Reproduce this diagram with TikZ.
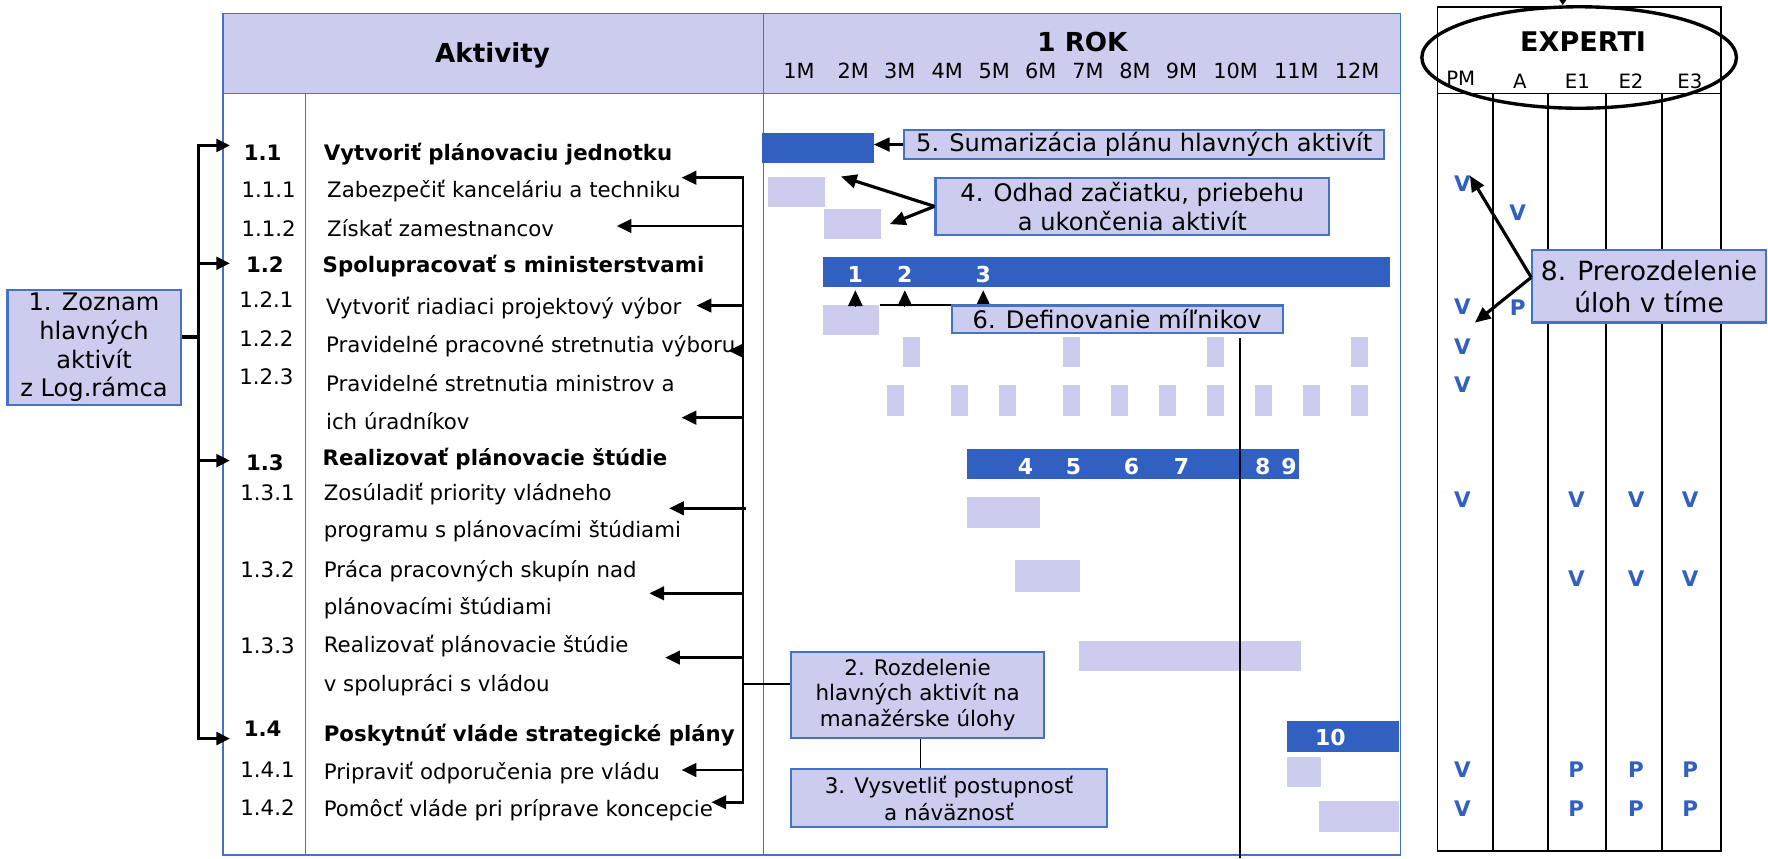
\documentclass[tikz,border=0pt]{standalone}
\usepackage{fontspec}
\setmainfont{DejaVu Sans}
\usetikzlibrary{arrows.meta,shapes.geometric,fit}

\definecolor{lav}{RGB}{204,204,238}
\definecolor{barblue}{RGB}{50,96,192}
\definecolor{edgeblue}{RGB}{68,114,196}

\newcommand{\rowfont}{\fontsize{18.9}{23}\selectfont}
\newcommand{\notefont}{\fontsize{21.4}{25.4}\selectfont}

\tikzset{
  tblframe/.style={draw=edgeblue, line width=1.5pt},
  note/.style={draw=edgeblue, line width=2pt, fill=lav, align=center, inner sep=0pt},
  rowtxt/.style={anchor=west, inner sep=0pt, text height=13.8pt, text depth=0pt, font=\rowfont},
  rowbold/.style={rowtxt, font=\rowfont\bfseries},
  headtxt/.style={inner sep=0pt, text height=17pt, text depth=0pt, font=\fontsize{23.2}{28}\selectfont\bfseries},
  monthlbl/.style={inner sep=0pt, text height=13.5pt, text depth=0pt, font=\fontsize{18.5}{22}\selectfont},
  collbl/.style={inner sep=0pt, text height=12.8pt, text depth=0pt, font=\fontsize{17.5}{21}\selectfont},
  vpmark/.style={inner sep=0pt, text height=13.9pt, text depth=0pt, text=barblue, font=\fontsize{19}{23}\selectfont\bfseries},
  barnum/.style={inner sep=0pt, text height=14.2pt, text depth=0pt, text=white, font=\fontsize{19.5}{23}\selectfont\bfseries},
  dbar/.style={fill=barblue, inner sep=0pt},
  lbar/.style={fill=lav, inner sep=0pt},
  arr/.style={line width=2.8pt, -{Triangle[length=14pt,width=12pt]}},
  rarr/.style={line width=2.2pt, -{Triangle[length=13pt,width=12pt]}},
  lbk/.style={line width=3pt},
  mstip/.style={line width=1pt, -{Triangle[length=14pt,width=13pt]}}
}

\begin{document}
\begin{tikzpicture}[x=1pt,y=1pt,yscale=-1,xscale=1]
\useasboundingbox (0,0) rectangle (1568,761);

%Shape: Rectangle (Aktivity + 1 ROK)
\draw[tblframe, fill=lav] (198,12) rectangle (1242,83);
\draw[tblframe] (198,12) rectangle (1242,758);
%Straight Lines
\draw[tblframe] (677,12) -- (677,758);
\draw[tblframe] (271,83) -- (271,758);

% Text Node
\node[headtxt] (akt) at (436.8,47.3) {Aktivity};
% Text Node
\node[headtxt] (rok) at (960,37) {1 ROK};
% months
\node[monthlbl] (m1) at (708.6,62.5) {1M};
\node[monthlbl] (m2) at (756.7,62.5) {2M};
\node[monthlbl] (m3) at (798,62.5) {3M};
\node[monthlbl] (m4) at (840,62.5) {4M};
\node[monthlbl] (m5) at (881.7,62.5) {5M};
\node[monthlbl] (m6) at (923,62.5) {6M};
\node[monthlbl] (m7) at (965,62.5) {7M};
\node[monthlbl] (m8) at (1006.6,62.5) {8M};
\node[monthlbl] (m9) at (1047.8,62.5) {9M};
\node[monthlbl] (m10) at (1095.9,62.5) {10M};
\node[monthlbl] (m11) at (1149.7,62.5) {11M};
\node[monthlbl] (m12) at (1203.5,62.5) {12M};

% Text Node (activities)
\node[rowbold] (n11) at (216,135.4) {1.1};
\node[rowbold] (t11) at (287,135.4) {Vytvoriť plánovaciu jednotku};
\node[rowtxt] (n111) at (214,168) {1.1.1};
\node[rowtxt] (t111) at (290,168) {Zabezpečiť kanceláriu a techniku};
\node[rowtxt] (n112) at (214,202.5) {1.1.2};
\node[rowtxt] (t112) at (290,202.5) {Získať zamestnancov};
\node[rowbold] (n12) at (218,235) {1.2};
\node[rowbold] (t12) at (286,235) {Spolupracovať s ministerstvami};
\node[rowtxt] (n121) at (212,266) {1.2.1};
\node[rowtxt] (t121) at (289,272) {Vytvoriť riadiaci projektový výbor};
\node[rowtxt] (n122) at (212,300) {1.2.2};
\node[rowtxt] (t122) at (289,306) {Pravidelné pracovné stretnutia výboru};
\node[rowtxt] (n123) at (212,334) {1.2.3};
\node[rowtxt] (t123) at (289,340) {Pravidelné stretnutia ministrov a};
\node[rowtxt] (t123b) at (289,374) {ich úradníkov};
\node[rowbold] (n13) at (218,410) {1.3};
\node[rowbold] (t13) at (286,405.6) {Realizovať plánovacie štúdie};
\node[rowtxt] (n131) at (213,437) {1.3.1};
\node[rowtxt] (t131) at (287,437) {Zosúladiť priority vládneho};
\node[rowtxt] (t131b) at (287,470) {programu s plánovacími štúdiami};
\node[rowtxt] (n132) at (213,505) {1.3.2};
\node[rowtxt] (t132) at (287,505) {Práca pracovných skupín nad};
\node[rowtxt] (t132b) at (287,538) {plánovacími štúdiami};
\node[rowtxt] (n133) at (213,573) {1.3.3};
\node[rowtxt] (t133) at (287,572) {Realizovať plánovacie štúdie};
\node[rowtxt] (t133b) at (287,606.6) {v spolupráci s vládou};
\node[rowbold] (n14) at (216,646) {1.4};
\node[rowbold] (t14) at (287,651) {Poskytnúť vláde strategické plány};
\node[rowtxt] (n141) at (213,682.3) {1.4.1};
\node[rowtxt] (t141) at (287,684.4) {Pripraviť odporučenia pre vládu};
\node[rowtxt] (n142) at (213,716.3) {1.4.2};
\node[rowtxt] (t142) at (287,717) {Pomôcť vláde pri príprave koncepcie};

%Shape: Rectangle (bars)
\node[dbar, fit={(676,117.7) (774.7,144.3)}] (b11) {};
\node[lbar, fit={(681,156.7) (731.6,183.9)}] (l111) {};
\node[lbar, fit={(730.9,185.4) (781,212.2)}] (l112) {};
\node[dbar, fit={(729.8,228.2) (1232.7,254.8)}] (b12) {};
\node[lbar, fit={(729.8,270.5) (779.8,297.1)}] (l121) {};
\node[lbar, fit={(800.9,299) (816.3,325.7)}] (l122a) {};
\node[lbar, fit={(942.8,299) (958.2,325.7)}] (l122b) {};
\node[lbar, fit={(1070.4,299) (1085.8,325.7)}] (l122c) {};
\node[lbar, fit={(1198,299) (1213.4,325.7)}] (l122d) {};
\node[lbar, fit={(786.6,341.4) (802,368.6)}] (l123a) {};
\node[lbar, fit={(843.2,341.4) (858.6,368.6)}] (l123b) {};
\node[lbar, fit={(885.9,341.4) (901.3,368.6)}] (l123c) {};
\node[lbar, fit={(942.8,341.4) (958.2,368.6)}] (l123d) {};
\node[lbar, fit={(985,341.4) (1000.4,368.6)}] (l123e) {};
\node[lbar, fit={(1027.8,341.4) (1043.2,368.6)}] (l123f) {};
\node[lbar, fit={(1070.4,341.4) (1085.8,368.6)}] (l123g) {};
\node[lbar, fit={(1112.8,341.4) (1128.2,368.6)}] (l123h) {};
\node[lbar, fit={(1155.5,341.4) (1170.9,368.6)}] (l123i) {};
\node[lbar, fit={(1198,341.4) (1213.4,368.6)}] (l123j) {};
\node[dbar, fit={(857.5,398.5) (1151.6,425)}] (b13) {};
\node[lbar, fit={(857.5,440.8) (922.5,468)}] (l131) {};
\node[lbar, fit={(900,497) (957.4,525)}] (l132) {};
\node[lbar, fit={(957,568.5) (1153.6,595)}] (l133) {};
\node[dbar, fit={(1141.4,639.4) (1240.8,666.6)}] (b14) {};
\node[lbar, fit={(1141.4,671) (1171.3,697.7)}] (l141) {};
\node[lbar, fit={(1169.7,710.4) (1240.8,737.6)}] (l142) {};

% Text Node (milestones)
\node[barnum] (ms1) at (758.6,243.6) {1};
\node[barnum] (ms2) at (802.5,243.6) {2};
\node[barnum] (ms3) at (872,243.6) {3};
\node[barnum] (ms4) at (909.4,413.3) {4};
\node[barnum] (ms5) at (952,413.3) {5};
\node[barnum] (ms6) at (1003.6,413.3) {6};
\node[barnum] (ms7) at (1047.8,413.3) {7};
\node[barnum] (ms8) at (1120,413.3) {8};
\node[barnum] (ms9) at (1143.3,413.3) {9};
\node[barnum] (ms10) at (1179.8,654) {10};

%Straight Lines (milestone pointers)
\coordinate (msbase) at (872,271);
\draw[line width=2pt] (l121.north east) -- (l121.north east -| msbase);
\foreach \n in {1,2,3}
  \draw[mstip] (ms\n |- msbase) -- ([yshift=2.5pt]ms\n |- b12.south);

%Straight Lines (thin vertical)
\coordinate (vtop) at (1100,300);
\coordinate (vend) at (1100,761);
\draw[line width=1.5pt] (vtop) -- (vend);

%Shape: Rectangle (notes)
\node[note, minimum width=293.5pt, minimum height=24.6pt, font=\notefont] (box6) at (990.8,283.3) {6. Definovanie míľnikov};
\node[note, minimum width=426pt, minimum height=25.7pt, font=\notefont] (box5) at (1014.7,128.2) {5. Sumarizácia plánu hlavných aktivít};
\node[note, minimum width=349pt, minimum height=50.8pt, font=\notefont] (box4) at (1004.2,183) {4. Odhad začiatku, priebehu\\a ukončenia aktivít};
\node[note, minimum width=224.3pt, minimum height=76.8pt, font=\fontsize{19}{22.8}\selectfont] (box2) at (813.8,616.4) {2. Rozdelenie\\hlavných aktivít na\\manažérske úlohy};
\node[note, minimum width=280pt, minimum height=51.4pt, font=\fontsize{19}{23.6}\selectfont] (box3) at (841.7,708) {3. Vysvetliť postupnosť\\a náväznosť};
\node[note, minimum width=153.6pt, minimum height=102pt, font=\fontsize{21.4}{25.6}\selectfont] (box1) at (83.4,308) {1. Zoznam\\hlavných\\aktivít\\z Log.rámca};

%Straight Lines (note arrows)
\draw[arr] (box5.west) -- (box5.west -| b11.east);
\draw[arr] (box4.west) -- ([xshift=14pt]l111.north east);
\draw[arr] (box4.west) -- ([xshift=8pt]l112.east);
\draw[line width=1.5pt] ([xshift=2.5pt]box2.south) -- ([xshift=2.5pt]box2.south |- box3.north);

%Straight Lines (left bracket)
\draw[lbk] ([yshift=-9pt]box1.east) -- (176,299);
\draw[lbk, {Triangle[length=12pt,width=11pt]}-{Triangle[length=12pt,width=11pt]}] (204,129) -- (176,129) -- (176,655) -- (204,655);
\draw[lbk, -{Triangle[length=12pt,width=11pt]}] (176,233.5) -- (204,233.5);
\draw[lbk, -{Triangle[length=12pt,width=11pt]}] (176,408.5) -- (204,408.5);

%Straight Lines (right bracket)
\draw[line width=2.2pt, {Triangle[length=13pt,width=12pt]}-{Triangle[length=13pt,width=12pt]}] (604.5,157.6) -- (659,157.6) -- (659,711.5) -- (631,711.5);
\draw[rarr] (659,200.4) -- (547,200.4);
\draw[rarr] (659,271) -- (617.8,271);
\draw[rarr] (659,311) -- (646,311);
\draw[rarr] (659,370.4) -- (604.5,370.4);
\draw[rarr] (661.7,450.8) -- (593.5,450.8);
\draw[rarr] (659,526.2) -- (575.9,526.2);
\draw[rarr] (659,583.2) -- (590,583.2);
\draw[rarr] (659,682.9) -- (604.5,682.9);
\coordinate (rsplit) at (659,606.6);
\draw[line width=2pt] (rsplit) -- (rsplit -| box2.west);

%Shape: Rectangle (experts)
\draw[line width=1.5pt] (1275,6.5) rectangle (1526,755);
\draw[line width=1.5pt] (1275,83) -- (1526,83);
\draw[line width=1.5pt] (1324,83) -- (1324,755);
\draw[line width=1.5pt] (1373,83) -- (1373,755);
\draw[line width=1.5pt] (1424,83) -- (1424,755);
\draw[line width=1.5pt] (1474,83) -- (1474,755);

% Text Node
\node[inner sep=0pt, text height=17.5pt, text depth=0pt, font=\fontsize{24}{28}\selectfont\bfseries] (expt) at (1404,37) {EXPERTI};
\node[collbl] (cPM) at (1295.5,69) {PM};
\node[collbl] (cA) at (1348,72) {A};
\node[collbl] (cE1) at (1399,72) {E1};
\node[collbl] (cE2) at (1446.5,72) {E2};
\node[collbl] (cE3) at (1498.8,72) {E3};

%Shape: Ellipse
\node[draw, ellipse, line width=3pt, minimum width=279pt, minimum height=90pt, inner sep=0pt] (expell) at (1400.5,51) {};
\coordinate (expin) at (1386,-8);
\draw[line width=1.5pt, -{Triangle[length=7pt,width=9pt]}] (expin) -- (expin |- expell.north);

% Text Node (V / P)
\node[vpmark] (vp1) at (1297,162.9) {V};
\node[vpmark] (vp2) at (1346,189) {V};
\node[vpmark] (vp3) at (1297,272) {V};
\node[vpmark] (vp4) at (1346,272.5) {P};
\node[vpmark] (vp5) at (1297,307.5) {V};
\node[vpmark] (vp6) at (1297,341) {V};
\node[vpmark] (vp7) at (1297,443) {V};
\node[vpmark] (vp8) at (1398,443) {V};
\node[vpmark] (vp9) at (1451,443) {V};
\node[vpmark] (vp10) at (1499,443) {V};
\node[vpmark] (vp11) at (1398,513) {V};
\node[vpmark] (vp12) at (1451,513) {V};
\node[vpmark] (vp13) at (1499,513) {V};
\node[vpmark] (vp14) at (1297,683) {V};
\node[vpmark] (vp15) at (1398,683) {P};
\node[vpmark] (vp16) at (1451,683) {P};
\node[vpmark] (vp17) at (1499,683) {P};
\node[vpmark] (vp18) at (1297,717) {V};
\node[vpmark] (vp19) at (1398,717) {P};
\node[vpmark] (vp20) at (1451,717) {P};
\node[vpmark] (vp21) at (1499,717) {P};

%Shape: Rectangle
\node[note, minimum width=207pt, minimum height=64pt, font=\fontsize{23.5}{28}\selectfont] (box8) at (1462.5,254) {8. Prerozdelenie\\úloh v tíme};
\draw[arr] ([yshift=-8pt]box8.west) -- ([xshift=6.6pt]vp1.north);
\draw[arr] ([yshift=-8pt]box8.west) -- ([xshift=11pt,yshift=7pt]vp3.south);

\end{tikzpicture}
\end{document}
